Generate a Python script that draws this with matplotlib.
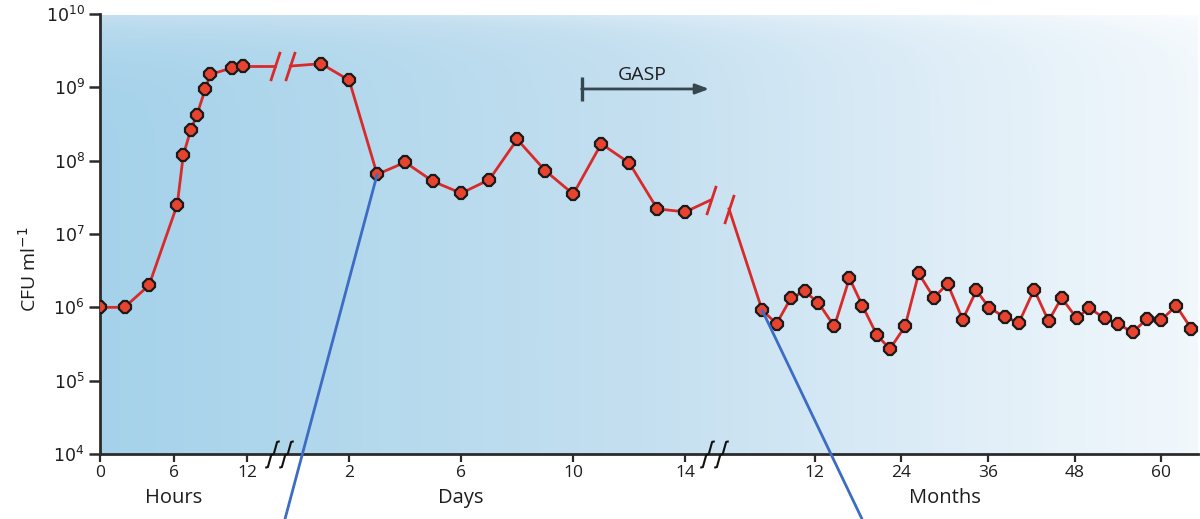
"""
Long-term survival of a bacterial culture: CFU per ml over hours, days and months,
drawn on one broken x axis.
"""

import matplotlib
matplotlib.use("Agg")
import matplotlib.pyplot as plt
import numpy as np
from matplotlib.colors import LinearSegmentedColormap
from matplotlib.patches import ConnectionPatch
from matplotlib.path import Path
from matplotlib.transforms import blended_transform_factory

# --- data ---------------------------------------------------------------
hours = [0, 2, 4, 6.3, 6.8, 7.4, 7.9, 8.6, 9.0, 10.8, 11.7]
cfu_hours = [1.0e6, 1.0e6, 2.0e6, 2.5e7, 1.2e8, 2.6e8, 4.2e8, 9.5e8, 1.5e9,
             1.85e9, 1.95e9]

days = [1, 2, 3, 4, 5, 6, 7, 8, 9, 10, 11, 12, 13, 14]
cfu_days = [2.1e9, 1.25e9, 6.5e7, 9.5e7, 5.2e7, 3.6e7, 5.5e7, 1.95e8, 7.3e7,
            3.5e7, 1.7e8, 9.3e7, 2.2e7, 2.0e7]

months = [4.7, 6.7, 8.7, 10.6, 12.5, 14.7, 16.8, 18.6, 20.6, 22.4, 24.5, 26.4,
          28.5, 30.4, 32.5, 34.4, 36.2, 38.3, 40.3, 42.4, 44.4, 46.2, 48.3,
          50.0, 52.2, 54.0, 56.1, 58.0, 60.0, 62.1, 64.2]
cfu_months = [9.1e5, 6.0e5, 1.35e6, 1.65e6, 1.15e6, 5.5e5, 2.5e6, 1.05e6,
              4.2e5, 2.7e5, 5.5e5, 2.9e6, 1.35e6, 2.1e6, 6.8e5, 1.7e6, 9.8e5,
              7.4e5, 6.2e5, 1.75e6, 6.5e5, 1.35e6, 7.1e5, 9.8e5, 7.1e5, 5.9e5,
              4.6e5, 6.9e5, 6.7e5, 1.05e6, 5.1e5]

hour_ticks = [0, 6, 12]
day_ticks = [2, 6, 10, 14]
month_ticks = [12, 24, 36, 48, 60]

# --- piecewise x scale (shared axis unit = 1 hour) -------------------------
DAY_OFFSET, DAY_SCALE = 15.76, 2.286
MONTH_OFFSET, MONTH_SCALE = 51.27, 0.5886
XMAX = 89.6


def xh(v):
    return np.asarray(v, float)


def xd(v):
    return DAY_OFFSET + np.asarray(v, float) * DAY_SCALE


def xm(v):
    return MONTH_OFFSET + np.asarray(v, float) * MONTH_SCALE


RED = "#d92a2a"
FACE = "#e8432f"
DARK = "#37474f"
TXT = "#1e1e1e"

plt.rcParams["font.family"] = ["Open Sans", "DejaVu Sans"]

fig = plt.figure(figsize=(12, 5.19), dpi=100)
ax = fig.add_axes([100 / 1200, 65 / 519, 1098 / 1200, 440 / 519])
ax.set_yscale("log")

# background gradient: deeper blue bottom-left, nearly white top-right
ny, nx = 200, 500
gx, gy = np.meshgrid(np.linspace(0, 1098, nx), np.linspace(0, 440, ny))
dist = np.hypot(gx, gy * 1.3) / np.hypot(1098, 440 * 1.3)
cmap = LinearSegmentedColormap.from_list(
    "bg", [(0, "#a5d2ea"), (0.45, "#c5e0f0"), (0.7, "#e0eef8"),
           (0.85, "#eef6fb"), (1, "#fcfdff")])
ax.imshow(dist, cmap=cmap, origin="lower", aspect="auto", extent=(0, XMAX, 1e4, 1e10),
          zorder=0, interpolation="bilinear")
ax.set_xlim(0, XMAX)
ax.set_ylim(1e4, 1e10)

line_kw = dict(color=RED, lw=2, zorder=3)
mark_kw = dict(marker="8", ms=9, mfc=FACE, mec="#1a1a1a", mew=1.6,
               linestyle="none", zorder=4)

# main segments
ax.plot(xh(hours), cfu_hours, **line_kw)
ax.plot(xd(days), cfu_days, **line_kw)
ax.plot(xm(months), cfu_months, **line_kw)

# connectors across the breaks
brk1 = (xh(14.3), xd(-0.1))
brk2 = (xd(14.9), xm(0.1))
ax.plot([hours[-1], brk1[0]], [cfu_hours[-1]] * 2, **line_kw)
ax.plot([brk1[1], xd(days[0])], [cfu_hours[-1], cfu_days[0]], **line_kw)
ax.plot([xd(days[-1]), brk2[0]], [cfu_days[-1], 2.9e7], **line_kw)
ax.plot([brk2[1], xm(months[0])], [2.2e7, cfu_months[0]], **line_kw)

slash = Path([(-0.33, -1), (0.33, 1)], [Path.MOVETO, Path.LINETO])
slash_kw = dict(marker=slash, ms=21, mec=RED, mew=2, linestyle="none", zorder=3)
ax.plot([brk1[0], brk1[1]], [cfu_hours[-1]] * 2, **slash_kw)
ax.plot([brk2[0]], [2.9e7], **slash_kw)
ax.plot([brk2[1]], [2.2e7], **slash_kw)

for seg_x, seg_y in [(xh(hours), cfu_hours), (xd(days), cfu_days),
                     (xm(months), cfu_months)]:
    ax.plot(seg_x, seg_y, **mark_kw)

# callout lines leaving the bottom of the figure
for px, py, fx in [(xd(days[2]), cfu_days[2], 285 / 1200),
                   (xm(months[0]), cfu_months[0], 862 / 1200)]:
    con = ConnectionPatch(xyA=(px, py), coordsA=ax.transData,
                          xyB=(fx, 0), coordsB=fig.transFigure,
                          color="#3d6cc4", lw=2, zorder=5)
    fig.add_artist(con)

# GASP arrow
ax.annotate("", xy=(xd(14.85), 9.5e8), xytext=(xd(10.3), 9.5e8),
            arrowprops=dict(arrowstyle="-|>,head_length=0.8,head_width=0.3",
                            color=DARK, lw=2, shrinkA=0, shrinkB=0), zorder=5)
ax.plot([xd(10.3)], [9.5e8], marker="|", ms=17, mew=2.4, color=DARK, zorder=5)
ax.text(xd(12.45), 1.45e9, "GASP", ha="center", va="center", fontsize=14,
        color=TXT)

# axes styling
for side in ("top", "right"):
    ax.spines[side].set_visible(False)
for side in ("left", "bottom"):
    ax.spines[side].set_color("#2b2b2b")
    ax.spines[side].set_linewidth(2)

ax.set_yticks([10.0 ** k for k in range(4, 11)])
ax.set_yticklabels([f"$10^{{{k}}}$" for k in range(4, 11)])
ax.yaxis.set_minor_locator(matplotlib.ticker.NullLocator())
ax.tick_params(axis="y", length=8, width=1.8, color="#2b2b2b", labelsize=12.5,
               pad=3, labelcolor=TXT)

xt = list(xh(hour_ticks)) + list(xd(day_ticks)) + list(xm(month_ticks))
xl = [str(v) for v in hour_ticks + day_ticks + month_ticks]
ax.set_xticks(xt)
ax.set_xticklabels(xl)
ax.tick_params(axis="x", length=6, width=1.6, color="#2b2b2b", labelsize=12.5,
               pad=2, labelcolor=TXT)

# axis break squiggles on the x axis
squig = Path([(-0.55, -1), (-0.35, -0.95), (-0.1, -0.05), (0.1, 0.05),
              (0.35, 0.95), (0.55, 1)])
for bx in (14.0, 15.2, 49.55, 50.7):
    ax.plot([bx], [1e4], marker=squig, ms=19, mec="#111111", mfc="none",
            mew=1.5, linestyle="none", clip_on=False, zorder=6)

ax.set_ylabel("CFU ml$^{-1}$", fontsize=14, color=TXT)
ax.yaxis.set_label_coords(-0.055, 0.42)

trans = blended_transform_factory(ax.transData, ax.transAxes)
for gx_, name in [(xh(6), "Hours"), (xd(6), "Days"), (xm(30), "Months")]:
    ax.text(gx_, -0.1, name, transform=trans, ha="center", va="center",
            fontsize=14.5, color=TXT)

fig.savefig("out.png", dpi=100)
